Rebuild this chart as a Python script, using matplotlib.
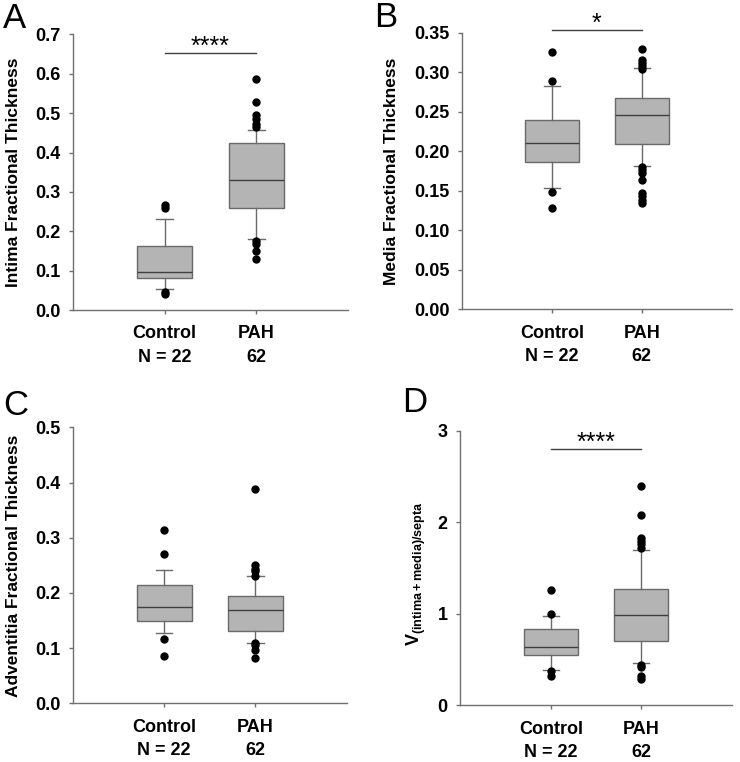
import numpy as np
import matplotlib
matplotlib.use('Agg')
import matplotlib.pyplot as plt

plt.rcParams['font.family'] = ['Liberation Sans', 'DejaVu Sans']
plt.rcParams['mathtext.fontset'] = 'custom'
plt.rcParams['mathtext.rm'] = 'Liberation Sans'
plt.rcParams['mathtext.bf'] = 'Liberation Sans:bold'

groups = ['Control', 'PAH']
n_labels = ['N = 22', '62']

# box stats (10th/90th percentile whiskers, outliers as dots)
intima_q1 = [0.081, 0.258]
intima_med = [0.098, 0.329]
intima_q3 = [0.164, 0.424]
intima_lo = [0.054, 0.181]
intima_hi = [0.230, 0.458]
intima_out = [[0.266, 0.260, 0.046, 0.041],
              [0.587, 0.527, 0.495, 0.485, 0.473, 0.465, 0.176, 0.169, 0.150, 0.131]]

media_q1 = [0.186, 0.209]
media_med = [0.2105, 0.246]
media_q3 = [0.2397, 0.268]
media_lo = [0.154, 0.181]
media_hi = [0.283, 0.305]
media_out = [[0.326, 0.289, 0.148, 0.128],
             [0.329, 0.316, 0.312, 0.308, 0.304, 0.180, 0.176, 0.1725, 0.164,
              0.147, 0.143, 0.139, 0.135]]

advent_q1 = [0.149, 0.131]
advent_med = [0.174, 0.169]
advent_q3 = [0.214, 0.195]
advent_lo = [0.127, 0.109]
advent_hi = [0.241, 0.230]
advent_out = [[0.314, 0.270, 0.117, 0.0865],
              [0.389, 0.250, 0.244, 0.239, 0.231, 0.110, 0.105, 0.097, 0.083]]

vol_q1 = [0.544, 0.700]
vol_med = [0.638, 0.983]
vol_q3 = [0.831, 1.266]
vol_lo = [0.388, 0.461]
vol_hi = [0.979, 1.701]
vol_out = [[1.262, 0.994, 0.374, 0.319],
           [2.401, 2.075, 1.832, 1.796, 1.759, 1.723, 0.443, 0.414, 0.316, 0.283]]

panels = [
    dict(letter='A', q1=intima_q1, med=intima_med, q3=intima_q3, lo=intima_lo, hi=intima_hi,
         out=intima_out, ylim=0.7, step=0.1, fmt='%.1f', ylabel='Intima Fractional Thickness',
         sig='****', sig_y=0.653, rect=[0.0986, 0.593, 0.372, 0.362], lx=-0.19, ly=0.5),
    dict(letter='B', q1=media_q1, med=media_med, q3=media_q3, lo=media_lo, hi=media_hi,
         out=media_out, ylim=0.35, step=0.05, fmt='%.2f', ylabel='Media Fractional Thickness',
         sig='*', sig_y=0.353, rect=[0.624, 0.594, 0.365, 0.363], lx=-0.233, ly=0.5),
    dict(letter='C', q1=advent_q1, med=advent_med, q3=advent_q3, lo=advent_lo, hi=advent_hi,
         out=advent_out, ylim=0.5, step=0.1, fmt='%.1f', ylabel='Adventitia Fractional Thickness',
         sig=None, sig_y=None, rect=[0.0986, 0.077, 0.370, 0.362], lx=-0.19, ly=0.5),
    dict(letter='D', q1=vol_q1, med=vol_med, q3=vol_q3, lo=vol_lo, hi=vol_hi,
         out=vol_out, ylim=3, step=1, fmt='%d',
         ylabel=r'$\mathbf{V}_{\mathbf{(intima+media)/septa}}$',
         sig='****', sig_y=2.797, rect=[0.622, 0.0745, 0.367, 0.360], lx=-0.12, ly=0.48),
]
letter_pos = {'A': (0.004, 0.997), 'B': (0.506, 0.999), 'C': (0.004, 0.489), 'D': (0.543, 0.493)}

spine_c = '#707070'
fig = plt.figure(figsize=(7.4, 7.62), dpi=100)

for p in panels:
    ax = fig.add_axes(p['rect'])
    stats = []
    for i in range(2):
        stats.append(dict(q1=p['q1'][i], med=p['med'][i], q3=p['q3'][i],
                          whislo=p['lo'][i], whishi=p['hi'][i], fliers=p['out'][i]))
    ax.bxp(stats, positions=[1, 2], widths=0.6, patch_artist=True, showcaps=True,
           boxprops=dict(facecolor='#b4b4b4', edgecolor='#6a6a6a', linewidth=1.0),
           medianprops=dict(color='#404040', linewidth=1.0),
           whiskerprops=dict(color='#6a6a6a', linewidth=1.0),
           capprops=dict(color='#6a6a6a', linewidth=1.0),
           capwidths=0.18,
           flierprops=dict(marker='o', markerfacecolor='black', markeredgecolor='black',
                           markersize=5))
    ax.set_xlim(0, 3)
    ax.set_ylim(0, p['ylim'])
    ticks = np.arange(0, p['ylim'] + p['step'] / 2, p['step'])
    ax.set_yticks(ticks)
    ax.set_yticklabels([p['fmt'] % t for t in ticks], fontsize=13, fontweight='bold')
    ax.set_xticks([1, 2])
    ax.set_xticklabels([f'{g}\n{n}' for g, n in zip(groups, n_labels)],
                       fontsize=13, fontweight='bold', linespacing=1.5)
    ax.tick_params(direction='out', length=3, color=spine_c, width=1.0)
    ax.tick_params(axis='x', pad=8)
    ax.tick_params(axis='y', pad=6)
    for s in ['top', 'right']:
        ax.spines[s].set_visible(False)
    for s in ['left', 'bottom']:
        ax.spines[s].set_color(spine_c)
        ax.spines[s].set_linewidth(1.0)
    if p['letter'] == 'D':
        ax.set_ylabel(p['ylabel'], fontsize=13)
    else:
        ax.set_ylabel(p['ylabel'], fontsize=12.5, fontweight='bold')
    ax.yaxis.set_label_coords(p['lx'], p['ly'])
    if p['sig']:
        ax.plot([1, 2], [p['sig_y'], p['sig_y']], color='#404040', linewidth=1.0, clip_on=False)
        ax.annotate(p['sig'], xy=(1.5, p['sig_y']), xytext=(0, -4), textcoords='offset points',
                    ha='center', va='bottom', fontsize=18, annotation_clip=False)
    fig.text(letter_pos[p['letter']][0], letter_pos[p['letter']][1], p['letter'],
             fontsize=25, ha='left', va='top')

fig.savefig('out.png', dpi=100, facecolor='white')
